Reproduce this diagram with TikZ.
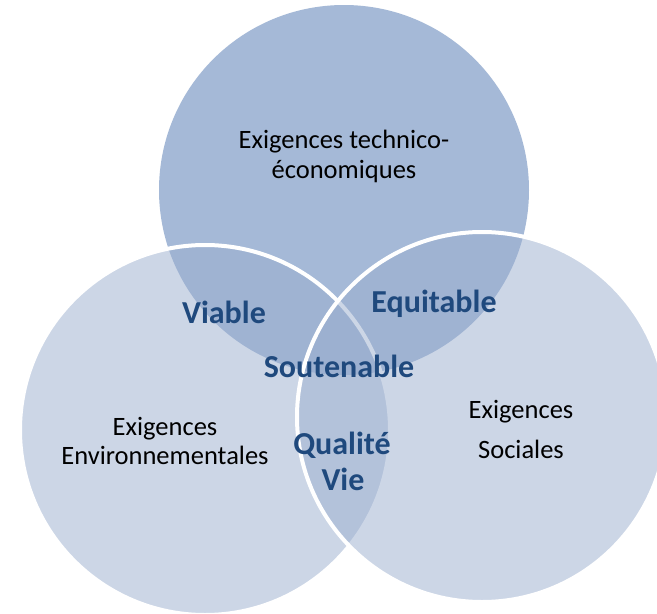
\documentclass[tikz,border=0pt]{standalone}
\usepackage{fontspec}
\setmainfont{Carlito}
\begin{document}
\begin{tikzpicture}[x=1pt,y=-1pt,
  topcirc/.style={circle, minimum size=370pt, inner sep=0pt, fill=topfill},
  sidecirc/.style={circle, minimum size=370pt, inner sep=0pt, fill=sidefill, fill opacity=0.5, draw=white, line width=4pt},
  reqtext/.style={font=\fontsize{26.5}{30}\selectfont, text=black, anchor=base, inner sep=0pt},
  keytext/.style={font=\fontsize{32}{36}\selectfont\bfseries, text=keyblue, anchor=base, inner sep=0pt}]
\definecolor{topfill}{RGB}{165,185,215}
\definecolor{sidefill}{RGB}{155,175,207}
\definecolor{keyblue}{RGB}{31,73,125}
\useasboundingbox (0,0) rectangle (657,614);
\fill[white] (0,0) rectangle (657,614);
\node[topcirc] (ctop) at (344,190) {};
\node[sidecirc] (cleft) at (205,430) {};
\node[sidecirc] (cright) at (482,417) {};
% requirement texts
\node[reqtext] (t1) at (344,148) {Exigences technico-};
\node[reqtext] (t2) at (344,178) {économiques};
\node[reqtext] (l1) at (165,435) {Exigences};
\node[reqtext] (l2) at (165,464) {Environnementales};
\node[reqtext] (r1) at (521,418) {Exigences};
\node[reqtext] (r2) at (521,458) {Sociales};
% key labels
\node[keytext] (viable) at (224,323) {Viable};
\node[keytext] (equit) at (434,312) {Equitable};
\node[keytext] (sout) at (339,377) {Soutenable};
\node[keytext] (qual) at (342,454) {Qualité};
\node[keytext] (vie) at (343,490) {Vie};
\end{tikzpicture}
\end{document}
